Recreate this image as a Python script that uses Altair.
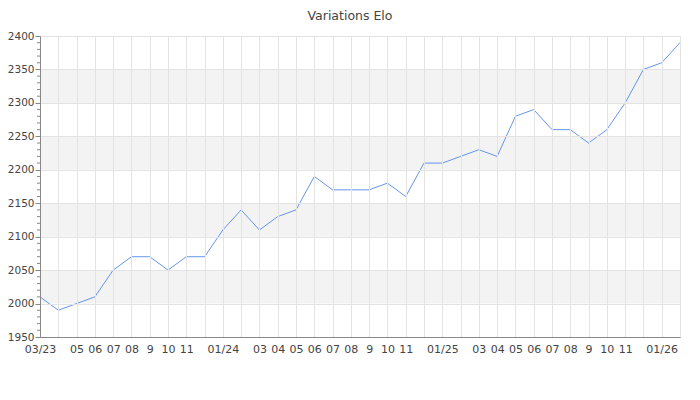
import altair as alt
import pandas as pd

months = ["2023-03","2023-04","2023-05","2023-06","2023-07","2023-08","2023-09","2023-10","2023-11","2023-12",
          "2024-01","2024-02","2024-03","2024-04","2024-05","2024-06","2024-07","2024-08","2024-09","2024-10","2024-11","2024-12",
          "2025-01","2025-02","2025-03","2025-04","2025-05","2025-06","2025-07","2025-08","2025-09","2025-10","2025-11","2025-12",
          "2026-01","2026-02"]
elo = [2010, 1990, 2000, 2010, 2050, 2070, 2070, 2050, 2070, 2070,
       2110, 2140, 2110, 2130, 2140, 2190, 2170, 2170, 2170, 2180, 2160, 2210,
       2210, 2220, 2230, 2220, 2280, 2290, 2260, 2260, 2240, 2260, 2300, 2350,
       2360, 2390]
tick_labels = ["03/23","","05","06","07","08","9","10","11","",
               "01/24","","03","04","05","06","07","08","9","10","11","",
               "01/25","","03","04","05","06","07","08","9","10","11","",
               "01/26",""]
band_starts = [2000, 2100, 2200, 2300]
band_ends = [2050, 2150, 2250, 2350]
major_ticks = [1950, 2000, 2050, 2100, 2150, 2200, 2250, 2300, 2350, 2400]
minor_ticks = [v for v in range(1950, 2401, 10) if v % 50 != 0]

df = pd.DataFrame({"i": list(range(len(months))), "month": months, "elo": elo})
bands = pd.DataFrame({"lo": band_starts, "hi": band_ends})
minor = pd.DataFrame({"v": minor_ticks})

label_js = "[" + ",".join("'" + s + "'" for s in tick_labels) + "]"

yscale = alt.Scale(domain=[1950, 2400], nice=False, zero=False)
xscale = alt.Scale(domain=[0, len(months) - 1], nice=False, zero=False)

yaxis = alt.Axis(values=major_ticks, format="d", tickSize=5, tickColor="#888888", grid=True,
                 gridColor="#e3e3e3", domainColor="#888888",
                 labelFont="DejaVu Sans", labelFontSize=10.5, labelColor="#444444",
                 labelPadding=1, labelFlush=False, zindex=1)
xaxis = alt.Axis(values=list(range(len(months))), labelExpr=label_js + "[datum.value]",
                 ticks=False, grid=True, gridColor="#e3e3e3", domainColor="#888888",
                 labelFont="DejaVu Sans", labelFontSize=11, labelColor="#444444",
                 labelPadding=6, labelOverlap=False, labelFlush=False, zindex=1)

band_layer = alt.Chart(bands).mark_rect(fill="#f3f3f3").encode(
    y=alt.Y("lo:Q", scale=yscale, axis=yaxis, title=None),
    y2="hi:Q",
    x=alt.value(0),
    x2=alt.value("width"),
)

minor_layer = alt.Chart(minor).mark_rule(color="#888888", strokeWidth=1).encode(
    y=alt.Y("v:Q", scale=yscale, axis=yaxis, title=None),
    x=alt.value(-3),
    x2=alt.value(0),
)

line_layer = alt.Chart(df).mark_line(color="#6495ED", strokeWidth=1).encode(
    x=alt.X("i:Q", scale=xscale, title=None, axis=xaxis),
    y=alt.Y("elo:Q", scale=yscale, title=None, axis=yaxis),
)

chart = alt.layer(band_layer, minor_layer, line_layer).properties(
    width=640, height=301,
    title=alt.TitleParams("Variations Elo", font="DejaVu Sans", fontSize=12.5, fontWeight="normal",
                          color="#444444", dx=-10, offset=9),
    autosize=alt.AutoSizeParams(type="none"),
    padding={"left": 32, "top": 28, "right": 12, "bottom": 55},
).configure_view(stroke=None)

chart.save("out.html", embed_options={"renderer": "svg", "actions": False})
